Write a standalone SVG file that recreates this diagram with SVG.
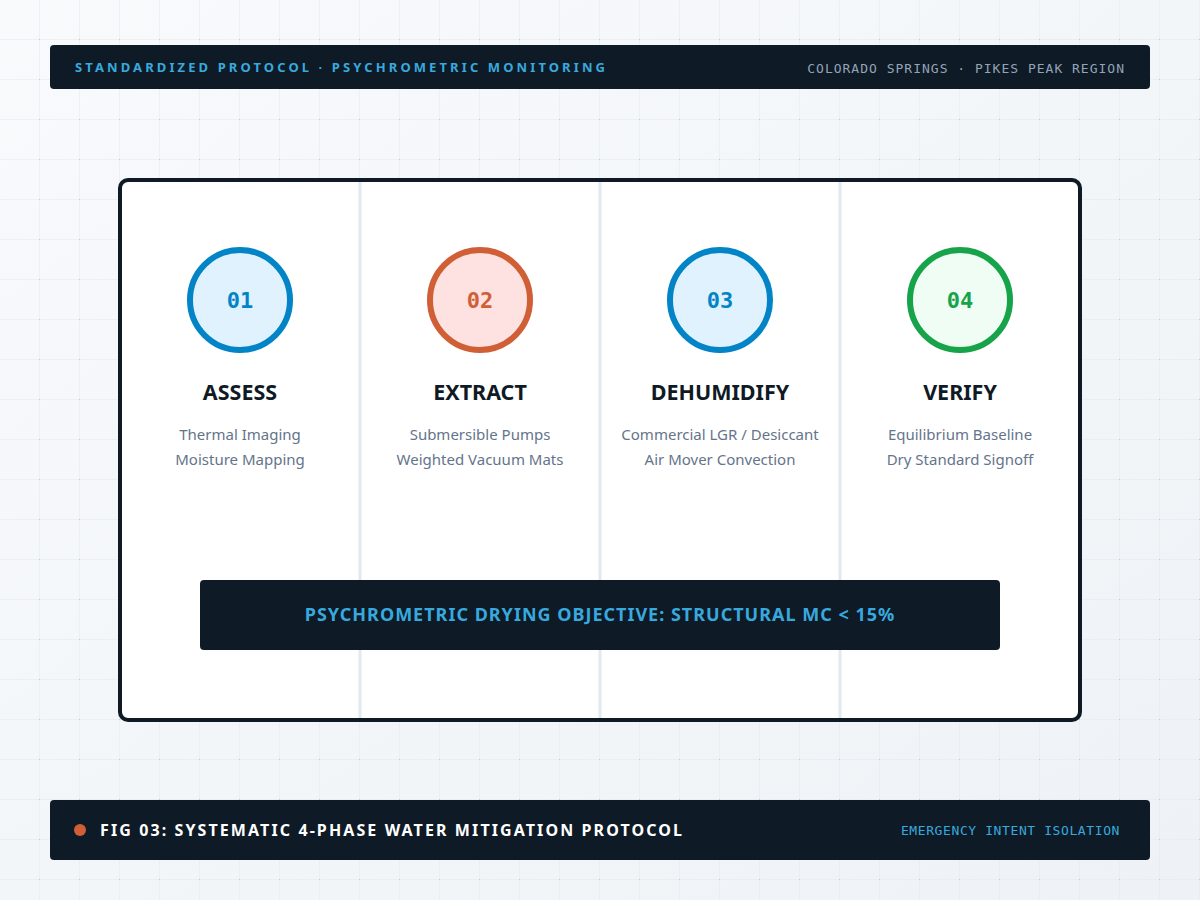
<svg xmlns="http://www.w3.org/2000/svg" width="1200" height="900" viewBox="0 0 1200 900">
<defs>
<linearGradient id="bg" x1="0" y1="0" x2="1" y2="1">
<stop offset="0" stop-color="#f8fafc"/>
<stop offset="1" stop-color="#eef2f6"/>
</linearGradient>
<pattern id="grid" width="40" height="40" patternUnits="userSpaceOnUse">
<path d="M40 0V40M0 40H40" fill="none" stroke="#e2e8f0" stroke-width="1"/>
<circle cx="40" cy="40" r="1" fill="#b8c2ce"/>
</pattern>
<style>
.bar{fill:#0e1a25}
.hdrL{font-family:"Noto Sans","Liberation Sans",sans-serif;font-weight:700;font-size:13px;letter-spacing:3.1px;fill:#38a9df}
.mono{font-family:"DejaVu Sans Mono","Liberation Mono",monospace;font-size:13px}
.num{font-family:"DejaVu Sans Mono","Liberation Mono",monospace;font-size:22px;font-weight:700;text-anchor:middle}
.ttl{font-family:"Noto Sans","Liberation Sans",sans-serif;font-size:21.5px;font-weight:700;fill:#0f1a24;text-anchor:middle}
.sub{font-family:"Noto Sans","Liberation Sans",sans-serif;font-size:15px;fill:#64748b;text-anchor:middle}
.div{stroke:#e2e8f0;stroke-width:3}
</style>
</defs>
<rect width="1200" height="900" fill="url(#bg)"/>
<rect width="1200" height="900" fill="url(#grid)"/>

<g id="header">
<rect class="bar" x="50" y="45" width="1100" height="44" rx="4"/>
<text class="hdrL" x="75" y="72">STANDARDIZED PROTOCOL · PSYCHROMETRIC MONITORING</text>
<text class="mono" x="1125" y="73" text-anchor="end" fill="#94a3b8" letter-spacing="1">COLORADO SPRINGS · PIKES PEAK REGION</text>
</g>

<g id="panel">
<rect x="120" y="180" width="960" height="540" rx="8" fill="#ffffff" stroke="#0f1a24" stroke-width="4"/>
<line class="div" x1="360" y1="182" x2="360" y2="718"/>
<line class="div" x1="600" y1="182" x2="600" y2="718"/>
<line class="div" x1="840" y1="182" x2="840" y2="718"/>
</g>

<g id="phase1">
<circle cx="240" cy="300" r="50" fill="#e0f2fe" stroke="#0284c7" stroke-width="6"/>
<text class="num" x="240" y="308" fill="#0284c7">01</text>
<text class="ttl" x="240" y="400">ASSESS</text>
<text class="sub" x="240" y="440">Thermal Imaging</text>
<text class="sub" x="240" y="465">Moisture Mapping</text>
</g>
<g id="phase2">
<circle cx="480" cy="300" r="50" fill="#fee2e2" stroke="#d05f36" stroke-width="6"/>
<text class="num" x="480" y="308" fill="#d05f36">02</text>
<text class="ttl" x="480" y="400">EXTRACT</text>
<text class="sub" x="480" y="440">Submersible Pumps</text>
<text class="sub" x="480" y="465">Weighted Vacuum Mats</text>
</g>
<g id="phase3">
<circle cx="720" cy="300" r="50" fill="#e0f2fe" stroke="#0284c7" stroke-width="6"/>
<text class="num" x="720" y="308" fill="#0284c7">03</text>
<text class="ttl" x="720" y="400">DEHUMIDIFY</text>
<text class="sub" x="720" y="440">Commercial LGR / Desiccant</text>
<text class="sub" x="720" y="465">Air Mover Convection</text>
</g>
<g id="phase4">
<circle cx="960" cy="300" r="50" fill="#f0fdf4" stroke="#16a34a" stroke-width="6"/>
<text class="num" x="960" y="308" fill="#16a34a">04</text>
<text class="ttl" x="960" y="400">VERIFY</text>
<text class="sub" x="960" y="440">Equilibrium Baseline</text>
<text class="sub" x="960" y="465">Dry Standard Signoff</text>
</g>

<g id="objective">
<rect class="bar" x="200" y="580" width="800" height="70" rx="4"/>
<text x="600" y="621" text-anchor="middle" font-family="Noto Sans, Liberation Sans, sans-serif" font-size="18" font-weight="700" letter-spacing="1" fill="#38a9df">PSYCHROMETRIC DRYING OBJECTIVE: STRUCTURAL MC &lt; 15%</text>
</g>

<g id="footer">
<rect class="bar" x="50" y="800" width="1100" height="60" rx="4"/>
<circle cx="80" cy="830" r="6" fill="#d05f36"/>
<text x="100" y="836" font-family="Noto Sans, Liberation Sans, sans-serif" font-size="16" font-weight="700" letter-spacing="2.1" fill="#ffffff">FIG 03: SYSTEMATIC 4-PHASE WATER MITIGATION PROTOCOL</text>
<text class="mono" x="1120" y="835" text-anchor="end" fill="#38a9df" letter-spacing="0.6">EMERGENCY INTENT ISOLATION</text>
</g>
<g id="connectors"/>
</svg>
